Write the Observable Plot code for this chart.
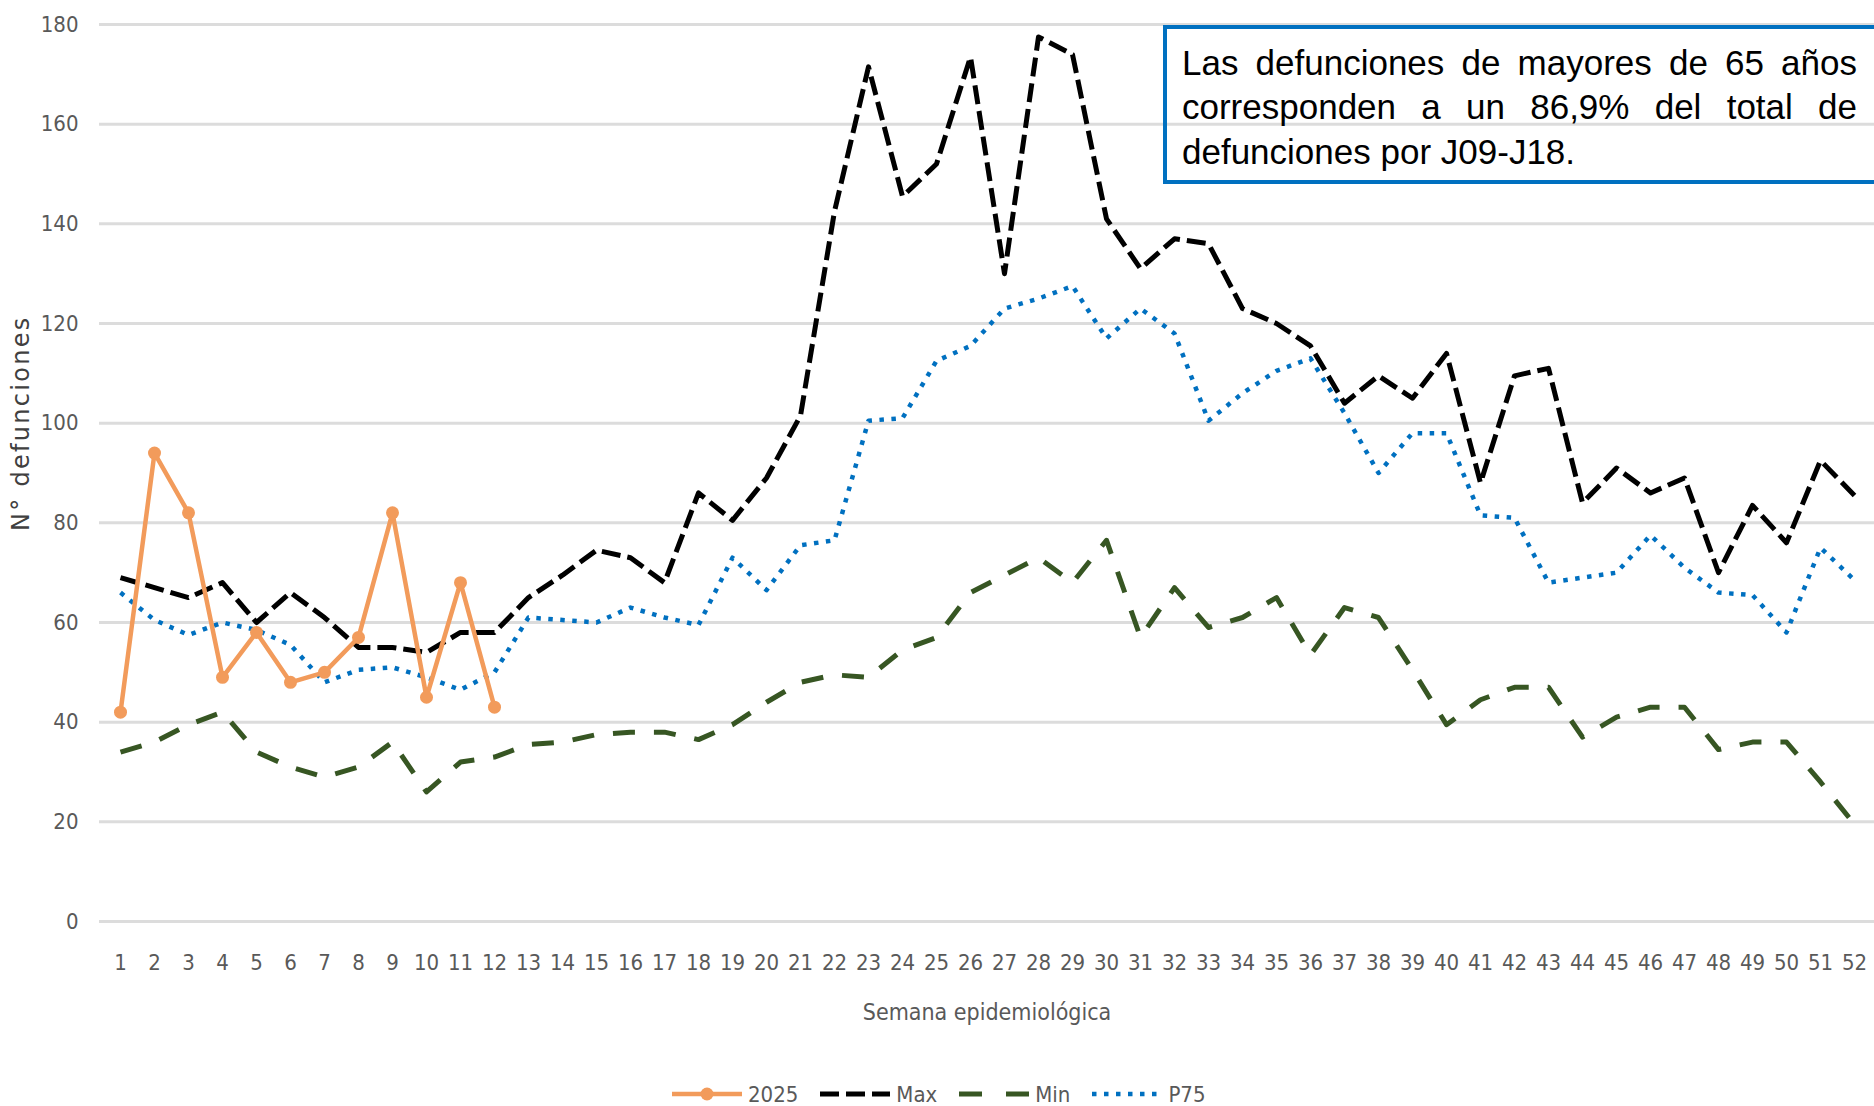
<!DOCTYPE html>
<html>
<head>
<meta charset="utf-8">
<script src="https://cdn.jsdelivr.net/npm/d3@7"></script>
<script src="https://cdn.jsdelivr.net/npm/@observablehq/plot@0.6"></script>
<style>
  html, body { margin: 0; padding: 0; background: #ffffff; }
  body { width: 1874px; height: 1106px; overflow: hidden; position: relative; }
  #chart svg { display: block; }
  #chart svg text[transform*="rotate"] { letter-spacing: 2.3px; }
  .note {
    position: absolute; left: 1163px; top: 25px;
    border: 4.5px solid #0070C0; background: transparent;
    padding: 11.5px 30px 6px 15px;
    width: 675px;
    font-family: "Liberation Sans", Arial, sans-serif; font-size: 35px; line-height: 44.5px;
    color: #000; text-align: justify;
  }
  .legend {
    position: absolute; left: 672px; top: 1076px; height: 36px;
    display: flex; align-items: center;
    font-family: "Liberation Sans Narrow", "DejaVu Sans Condensed", "Arial Narrow", sans-serif;
    font-size: 22px; color: #595959;
  }
  .legend .item { display: flex; align-items: center; margin-right: 22px; }
  .legend svg { display: block; margin-right: 6px; }
</style>
</head>
<body>
<div id="chart"></div>
<div class="note" id="note"></div>
<div class="legend" id="legend"></div>
<script>
// ---- data ----
const weeks = d3.range(1, 53);
const yTicks = [0, 20, 40, 60, 80, 100, 120, 140, 160, 180];
const seriesNames = ["2025", "Max", "Min", "P75"];
const serie2025 = [42, 94, 82, 49, 58, 48, 50, 57, 82, 45, 68, 43];
const serieMax = [69, 67, 65, 68, 60, 66, 61, 55, 55, 54, 58, 58, 65, 69.5, 74.5, 73, 68, 86, 80.5, 89,
  101.5, 142.5, 171.5, 145.5, 152, 173.5, 130, 177.5, 174, 141, 131, 137, 136, 123, 120, 115.5, 104, 109.5, 105, 114,
  88, 109.5, 111, 84, 91, 86, 89, 70, 83.5, 76, 92.5, 85.5];
const serieMin = [34, 36, 39.5, 42, 34, 31, 29, 31, 36, 26, 32, 33, 35.5, 36, 37.5, 38, 38, 36.5, 39.5, 44,
  48, 49.5, 49, 54.5, 57, 66, 69.5, 73, 68, 76.5, 57, 67, 59, 61, 65, 53.5, 63, 61, 50.5, 39.5,
  44.5, 47, 47, 37, 41, 43, 43, 34.5, 36, 36, 28, 19.5];
const serieP75 = [66, 60.5, 57.5, 60, 58.5, 55.5, 48, 50.5, 51, 49, 46.5, 50, 61, 60.5, 60, 63, 61, 59.5, 73, 66.5,
  75.5, 76.5, 100.5, 101, 112.5, 115.5, 123, 125, 127.5, 117, 123, 118, 100.5, 106, 110.5, 113, 102, 90, 98, 98,
  81.5, 81, 68, 69, 70, 77.5, 71, 66, 65.5, 58, 75, 68.5];
const yTitle = "N° defunciones";
const xTitle = "Semana epidemiológica";
const noteText = "Las defunciones de mayores de 65 años corresponden a un 86,9% del total de defunciones por J09-J18.";

// ---- styles ----
const NARROW = "'Liberation Sans Narrow', 'DejaVu Sans Condensed', 'Arial Narrow', sans-serif";
const styles = {
  "2025": {stroke: "#F29B5B", strokeWidth: 4.5, dash: null},
  "Max": {stroke: "#000000", strokeWidth: 5, dash: "19,7"},
  "Min": {stroke: "#375623", strokeWidth: 5, dash: "22,19"},
  "P75": {stroke: "#0070C0", strokeWidth: 4.5, dash: "4.5,7.5"}
};

const toRows = arr => arr.map((v, i) => ({week: weeks[i], v}));
const d2025 = toRows(serie2025), dMax = toRows(serieMax), dMin = toRows(serieMin), dP75 = toRows(serieP75);

const lineMark = (rows, name) => Plot.line(rows, {
  x: "week", y: "v", stroke: styles[name].stroke, strokeWidth: styles[name].strokeWidth,
  strokeDasharray: styles[name].dash, strokeLinecap: "butt", strokeLinejoin: "round"
});

const chart = Plot.plot({
  width: 1874, height: 1060,
  marginTop: 24, marginBottom: 139, marginLeft: 99, marginRight: 0,
  style: {fontFamily: NARROW, fontSize: "22px", color: "#595959", background: "transparent", overflow: "visible"},
  x: {type: "point", domain: weeks, padding: 0.5, axis: null},
  y: {domain: [0, 180], axis: null},
  marks: [
    Plot.ruleY(yTicks, {stroke: "#DCDCDC", strokeWidth: 3}),
    Plot.axisY(yTicks, {tickSize: 0, tickPadding: 21, label: null, fontSize: 22}),
    Plot.axisX({tickSize: 0, tickPadding: 33, label: null, fontSize: 22}),
    Plot.text([yTitle], {frameAnchor: "left", y: [100], dx: -78, rotate: -90, textAnchor: "middle",
      fontFamily: "DejaVu Sans", fontSize: 24, fill: "#404040"}),
    Plot.text([xTitle], {frameAnchor: "bottom", dy: 91, lineAnchor: "middle", fontSize: 23, fill: "#595959"}),
    lineMark(dMax, "Max"),
    lineMark(dMin, "Min"),
    lineMark(dP75, "P75"),
    lineMark(d2025, "2025"),
    Plot.dot(d2025, {x: "week", y: "v", r: 6.5, fill: styles["2025"].stroke, stroke: "none"})
  ]
});
document.getElementById("chart").appendChild(chart);

document.getElementById("note").textContent = noteText;

// ---- legend ----
const legend = d3.select("#legend");
seriesNames.forEach(name => {
  const s = styles[name];
  const item = legend.append("div").attr("class", "item");
  const w = 70, h = 20;
  const svg = item.append("svg").attr("width", w).attr("height", h);
  svg.append("line").attr("x1", 0).attr("x2", w).attr("y1", h / 2).attr("y2", h / 2)
    .attr("stroke", s.stroke).attr("stroke-width", s.strokeWidth)
    .attr("stroke-dasharray", name === "Min" ? "23,24" : s.dash);
  if (name === "2025") svg.append("circle").attr("cx", w / 2).attr("cy", h / 2).attr("r", 6.5).attr("fill", s.stroke);
  item.append("span").text(name);
});
</script>
</body>
</html>
